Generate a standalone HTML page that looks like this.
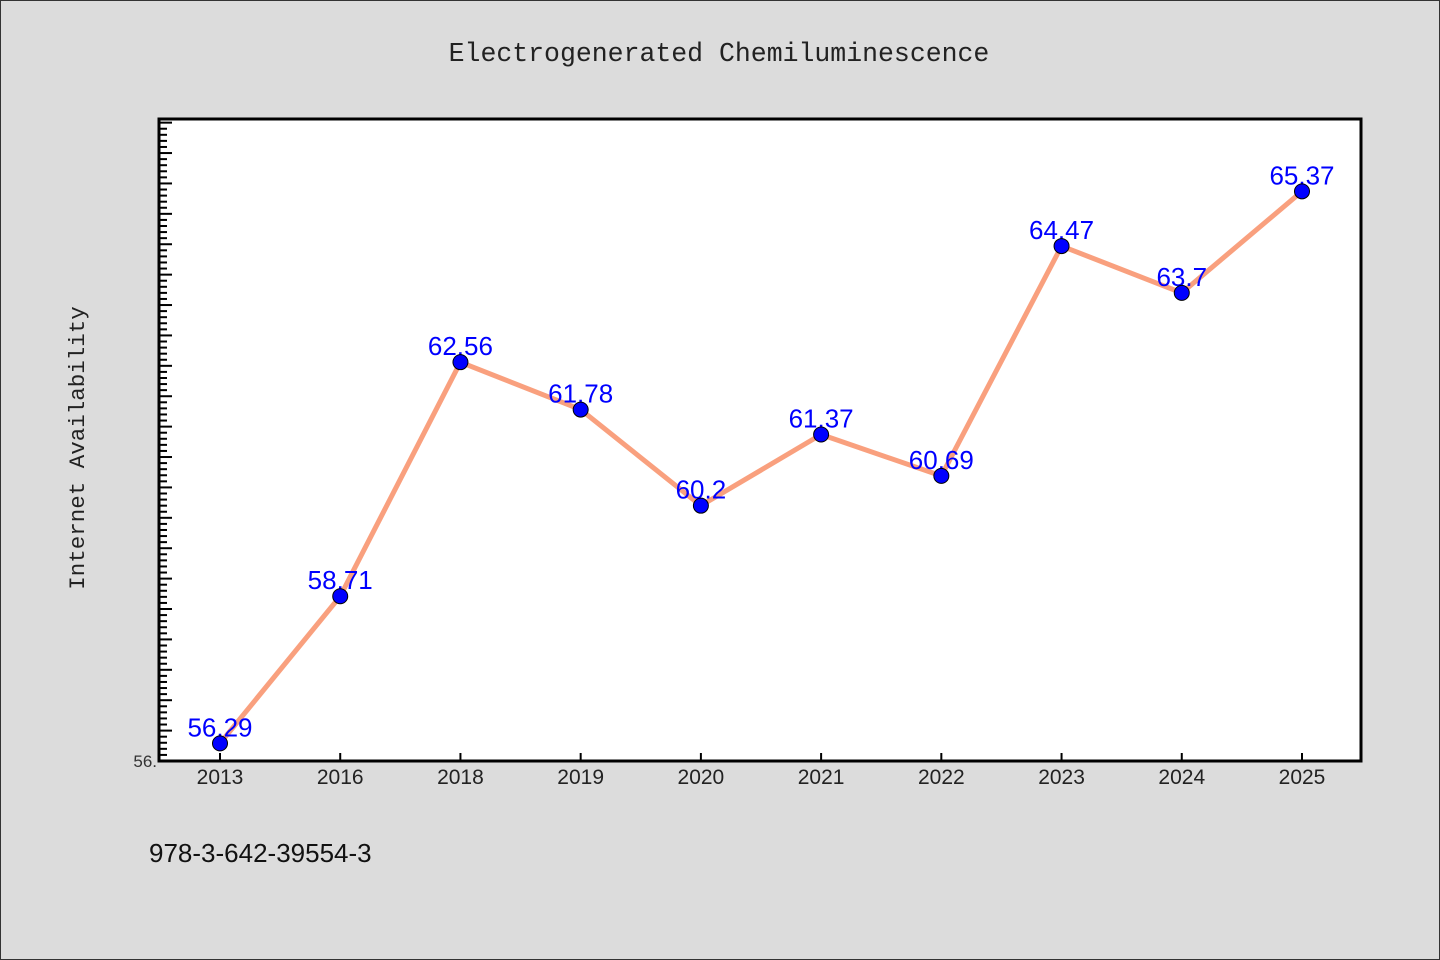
<!DOCTYPE html>
<html><head><meta charset="utf-8"><style>
html,body{margin:0;padding:0;background:#dcdcdc;}
svg{display:block;}
</style></head><body>
<svg width="1440" height="960" viewBox="0 0 1440 960" xmlns="http://www.w3.org/2000/svg">
<rect x="0.5" y="0.5" width="1439" height="959" fill="#dcdcdc" stroke="#333" stroke-width="1"/>
<text x="719" y="61" text-anchor="middle" font-family="Liberation Mono, monospace" font-size="26.5" fill="#222">Electrogenerated Chemiluminescence</text>
<rect x="159" y="119" width="1202" height="642" fill="#fff"/>
<g id="yticks"></g>
<g id="xticks"></g>
<rect x="159" y="119" width="1202" height="642" fill="none" stroke="#000" stroke-width="3"/>
<text x="0" y="0" transform="translate(84,448) rotate(-90)" text-anchor="middle" font-family="Liberation Mono, monospace" font-size="22.5" fill="#222">Internet Availability</text>
<text x="157" y="767" text-anchor="end" font-family="Liberation Sans, sans-serif" font-size="17" fill="#333">56.</text>
<g id="series"></g>
<text x="149" y="862" font-family="Liberation Sans, sans-serif" font-size="26" fill="#111">978-3-642-39554-3</text>
</svg>
<script>
const categories = ["2013","2016","2018","2019","2020","2021","2022","2023","2024","2025"];
const values = [56.29,58.71,62.56,61.78,60.2,61.37,60.69,64.47,63.7,65.37];
const yMin = 56, yMax = 66.56;
const NS = "http://www.w3.org/2000/svg";
const L=159,R=1361,T=119,B=761;
function xs(i){return 220 + i*(R-L-120)/(categories.length-1);}
function ys(v){return B - (v-yMin)/(yMax-yMin)*(B-T);}
function mk(tag,attrs,parent){const e=document.createElementNS(NS,tag);for(const k in attrs)e.setAttribute(k,attrs[k]);parent.appendChild(e);return e;}
const yt=document.getElementById('yticks');
for(let k=1;k*0.1<yMax-yMin;k++){
  const v=yMin+k*0.1; const y=ys(v); if(y<T+2) break;
  const major=k%5===0;
  const t=mk('line',{x1:L,x2:L+(major?13:8),y1:y,y2:y,stroke:'#000','stroke-width':2},yt);
  
  
}
const xt=document.getElementById('xticks');
const sg=document.getElementById('series');
categories.forEach((c,i)=>{
  const x=xs(i);
  const t=mk('line',{x1:x,x2:x,y1:B,y2:B-8,stroke:'#000','stroke-width':2},xt);
  
  
  const lb=mk('text',{x:x,y:B+23,'text-anchor':'middle','font-family':'Liberation Sans, sans-serif','font-size':21,fill:'#222'},xt);
  lb.textContent=c;
  
  
});
const pts=values.map((v,i)=>xs(i)+','+ys(v)).join(' ');
const line=mk('polyline',{points:pts,fill:'none',stroke:'#f9a07e','stroke-width':5,'stroke-linejoin':'round'},sg);


values.forEach((v,i)=>{
  const lb=mk('text',{x:xs(i),y:ys(v)-7,'text-anchor':'middle','font-family':'Liberation Sans, sans-serif','font-size':26,fill:'#0000ff'},sg);
  lb.textContent=String(v);
  
  
});
values.forEach((v,i)=>{
  const c=mk('circle',{cx:xs(i),cy:ys(v),r:7.5,fill:'#0000ff',stroke:'#000','stroke-width':1},sg);
  
  
});
</script>
</body></html>
